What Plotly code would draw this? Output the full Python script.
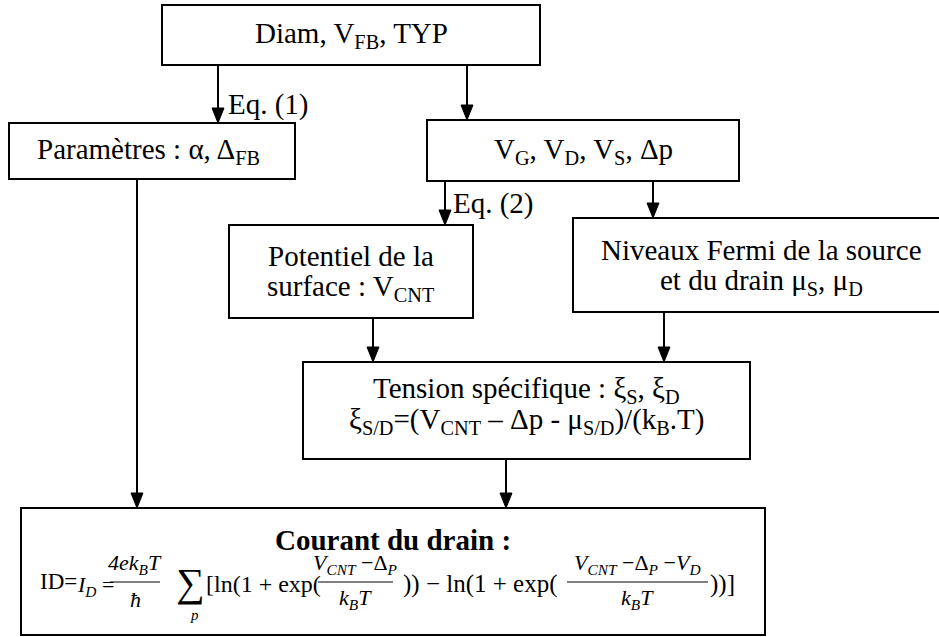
import plotly.graph_objects as go

# texts of the flowchart
box_texts = [
    ["Diam, V<sub>FB</sub>, TYP"],
    ["Paramètres : α, Δ<sub>FB</sub>"],
    ["V<sub>G</sub>, V<sub>D</sub>, V<sub>S</sub>, Δp"],
    ["Potentiel de la", "surface : V<sub>CNT</sub>"],
    ["Niveaux Fermi de la source", "et du drain μ<sub>S</sub>, μ<sub>D</sub>"],
    ["Tension spécifique : ξ<sub>S</sub>, ξ<sub>D</sub>",
     "ξ<sub>S/D</sub>=(V<sub>CNT</sub> – Δp - μ<sub>S/D</sub>)/(k<sub>B</sub>.T)"],
    ["<b>Courant du drain :</b>"],
]
eq_labels = ["Eq. (1)", "Eq. (2)"]

# formula pieces
id_prefix = "ID="
id_lhs = "<i>I<sub>D</sub></i> ="
frac_num = ["<i>4ek<sub>B</sub>T</i>", "<i>V<sub>CNT</sub></i> −Δ<sub><i>P</i></sub>",
            "<i>V<sub>CNT</sub></i> −Δ<sub><i>P</i></sub> −<i>V<sub>D</sub></i>"]
frac_den = ["<i>ħ</i>", "<i>k<sub>B</sub>T</i>", "<i>k<sub>B</sub>T</i>"]
sum_sign = "∑"
sum_index = "<i>p</i>"
line_texts = ["[ln(1 + exp(", ")) − ln(1 + exp(", "))]"]

# layout (pixels, y down)
boxes = [(162, 540, 5, 65), (9, 295, 123, 179), (427, 739, 120, 181),
         (229, 473, 225, 318), (573, 950, 218, 312), (303, 750, 362, 459),
         (21, 765, 508, 635)]
text_pos = [[(351, 35)], [(148, 151)], [(583, 151)],
            [(351, 256), (351, 288)], [(761, 250), (761, 282)],
            [(526, 390), (526, 421)], [(393, 540)]]
arrows = [(218, 65, 123), (467, 65, 120), (445, 181, 225), (653, 181, 218),
          (373, 318, 362), (664, 312, 362), (506, 459, 508), (137, 179, 508)]
eq_pos = [(226, 104), (451, 203)]

FONT = "Liberation Serif, Times New Roman, serif"
fig = go.Figure()

for x0, x1, y0, y1 in boxes:
    fig.add_shape(type="rect", x0=x0, x1=x1, y0=y0, y1=y1,
                  line=dict(color="black", width=2), fillcolor="white")

for x, y0, y1 in arrows:
    fig.add_shape(type="line", x0=x, x1=x, y0=y0, y1=y1 - 12,
                  line=dict(color="black", width=2))
    fig.add_shape(type="path", path=f"M {x-6} {y1-15} L {x+6} {y1-15} L {x} {y1} Z",
                  fillcolor="black", line=dict(color="black", width=1))


def txt(x, y, s, size=29, xanchor="center"):
    fig.add_annotation(x=x, y=y, text=s, showarrow=False, xanchor=xanchor,
                       yanchor="middle", font=dict(family=FONT, size=size, color="black"))


for lines, poss in zip(box_texts, text_pos):
    for s, (x, y) in zip(lines, poss):
        txt(x, y, s)

for s, (x, y) in zip(eq_labels, eq_pos):
    txt(x, y, s, xanchor="left")

# drain current formula
base_y = 584
txt(38, base_y - 3, id_prefix, size=23, xanchor="left")
txt(75, base_y + 2, id_lhs, size=22, xanchor="left")
frac_x = [(110, 160), (318, 393), (567, 708)]
for (a, b), num, den in zip(frac_x, frac_num, frac_den):
    fig.add_shape(type="line", x0=a, x1=b, y0=base_y - 2, y1=base_y - 2,
                  line=dict(color="black", width=1.2))
    txt((a + b) / 2, base_y - 20, num, size=22)
    txt((a + b) / 2, base_y + 15, den, size=22)
txt(190, base_y - 2, sum_sign, size=40)
txt(194, base_y + 31, sum_index, size=15)
line_x = [(208, 318), (393, 567), (708, 736)]
for s, (a, b) in zip(line_texts, line_x):
    txt((a + b) / 2, base_y, s, size=24 if a < 300 else 25)

fig.update_layout(
    width=939, height=637, margin=dict(l=0, r=0, t=0, b=0),
    paper_bgcolor="white", plot_bgcolor="white", showlegend=False,
    xaxis=dict(range=[0, 939], visible=False, fixedrange=True),
    yaxis=dict(range=[637, 0], visible=False, fixedrange=True),
)

fig.write_html("out.html", config={"displayModeBar": False},
               post_script="document.body.style.margin='0';")
